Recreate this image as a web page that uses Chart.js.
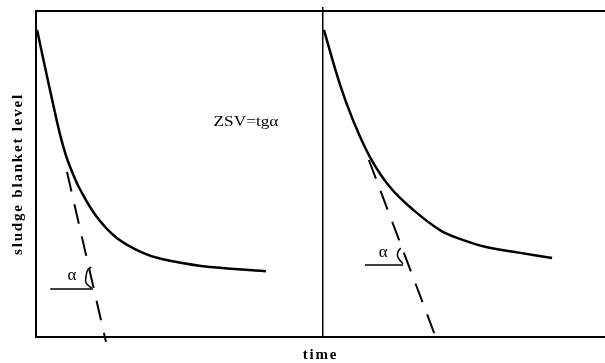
<!DOCTYPE html>
<html lang="en">
<head>
    <meta charset="UTF-8">
    <title>Sludge blanket level vs time</title>
    <script src="https://cdn.jsdelivr.net/npm/chart.js"></script>
    <style>
        body {
            margin: 0;
            background: #fff;
        }
        #wrap {
            width: 605px;
            height: 363px;
        }
    </style>
</head>
<body>
    <div id="wrap"><canvas id="zsvChart"></canvas></div>

    <script>
        // Settling curves (time, level), both axes 0..100
        const leftCurveX = [0.2, 1.2, 3.0, 4.2, 5.3, 6.5, 7.7, 10.7, 14.2, 18.8, 22.1, 29.0, 40.4];
        const leftCurveY = [94.2, 85.9, 71.5, 62.3, 55.5, 50.0, 45.4, 36.8, 30.4, 25.8, 23.9, 21.8, 20.2];
        const rightCurveX = [50.6, 53.4, 55.7, 58.7, 62.2, 66.3, 71.0, 74.5, 79.1, 85.1, 90.7];
        const rightCurveY = [94.2, 77.6, 66.6, 55.2, 46.0, 39.0, 32.8, 30.1, 27.6, 25.8, 24.2];

        // Tangent lines (dashed)
        const leftTangentX = [5.45, 12.3];
        const leftTangentY = [50.6, -1.5];
        const rightTangentX = [58.5, 70.5];
        const rightTangentY = [54.3, -1.2];

        // Angle marks
        const leftAngleBaseX = [2.5, 10.0];
        const leftAngleBaseY = [14.7, 14.7];
        const leftArcX = [9.8, 8.8, 8.8, 9.1, 9.7];
        const leftArcY = [15.0, 16.6, 18.7, 20.6, 21.5];
        const rightAngleBaseX = [57.8, 64.5];
        const rightAngleBaseY = [22.1, 22.1];
        const rightArcX = [64.5, 63.6, 63.6, 64.1];
        const rightArcY = [22.4, 24.5, 26.1, 27.3];

        // Divider between the two tests
        const dividerX = [50.4, 50.4];
        const dividerY = [0, 101.2];

        // Text annotations
        const noteText = ['ZSV=tgα', 'α', 'α'];
        const noteX = [36.9, 6.3, 61.0];
        const noteY = [66.0, 19.0, 25.8];

        const xTitle = 'time';
        const yTitle = 'sludge blanket level';

        function pts(xs, ys) {
            return xs.map((x, i) => ({ x: x, y: ys[i] }));
        }

        function line(xs, ys, width, extra) {
            return Object.assign({
                data: pts(xs, ys),
                showLine: true,
                borderColor: '#000',
                borderWidth: width,
                pointRadius: 0,
                fill: false,
                clip: false
            }, extra || {});
        }

        const notesPlugin = {
            id: 'notes',
            beforeDraw(chart) {
                // axis titles in the scan are widely spaced
                chart.ctx.letterSpacing = '1.8px';
            },
            afterDatasetsDraw(chart) {
                const ctx = chart.ctx;
                const sx = chart.scales.x, sy = chart.scales.y;
                noteText.forEach((t, i) => {
                    ctx.save();
                    ctx.letterSpacing = '0px';
                    ctx.fillStyle = '#000';
                    ctx.textAlign = 'center';
                    ctx.textBaseline = 'middle';
                    ctx.translate(sx.getPixelForValue(noteX[i]), sy.getPixelForValue(noteY[i]));
                    if (i === 0) {
                        ctx.font = '15px "Liberation Serif"';
                        ctx.scale(1.15, 1);
                    } else {
                        ctx.font = '17px "Liberation Serif"';
                    }
                    ctx.fillText(t, 0, 0);
                    ctx.restore();
                });
            }
        };

        const titleFont = { family: 'Liberation Serif', weight: 'bold', size: 15, lineHeight: 1 };

        new Chart(document.getElementById('zsvChart'), {
            type: 'scatter',
            data: {
                datasets: [
                    line(leftCurveX, leftCurveY, 2.5, { tension: 0.4 }),
                    line(rightCurveX, rightCurveY, 2.5, { tension: 0.4 }),
                    line(leftTangentX, leftTangentY, 2, { borderDash: [20, 13] }),
                    line(rightTangentX, rightTangentY, 2, { borderDash: [20, 13] }),
                    line(leftAngleBaseX, leftAngleBaseY, 1.5),
                    line(rightAngleBaseX, rightAngleBaseY, 1.5),
                    line(leftArcX, leftArcY, 1.5, { tension: 0.4 }),
                    line(rightArcX, rightArcY, 1.5, { tension: 0.4 }),
                    line(dividerX, dividerY, 1.5)
                ]
            },
            options: {
                responsive: true,
                maintainAspectRatio: false,
                animation: false,
                layout: { padding: 0 },
                plugins: {
                    legend: { display: false },
                    tooltip: { enabled: false }
                },
                scales: {
                    x: {
                        type: 'linear',
                        position: 'bottom',
                        min: 0,
                        max: 100,
                        grid: { display: false },
                        ticks: { display: false },
                        border: { display: true, color: '#000', width: 2 },
                        title: { display: true, text: xTitle, color: '#000', font: titleFont, padding: 0 },
                        afterFit: s => { s.height = 26; }
                    },
                    xTop: {
                        type: 'linear',
                        position: 'top',
                        min: 0,
                        max: 100,
                        grid: { display: false },
                        ticks: { display: false },
                        border: { display: true, color: '#000', width: 2 },
                        afterFit: s => { s.height = 11; }
                    },
                    y: {
                        type: 'linear',
                        min: 0,
                        max: 100,
                        grid: { display: false },
                        ticks: { display: false },
                        border: { display: true, color: '#000', width: 2 },
                        title: { display: true, text: yTitle, color: '#000', font: titleFont, padding: { top: 11, bottom: 0 } },
                        afterFit: s => { s.width = 36; }
                    }
                }
            },
            plugins: [notesPlugin]
        });
    </script>
</body>
</html>
